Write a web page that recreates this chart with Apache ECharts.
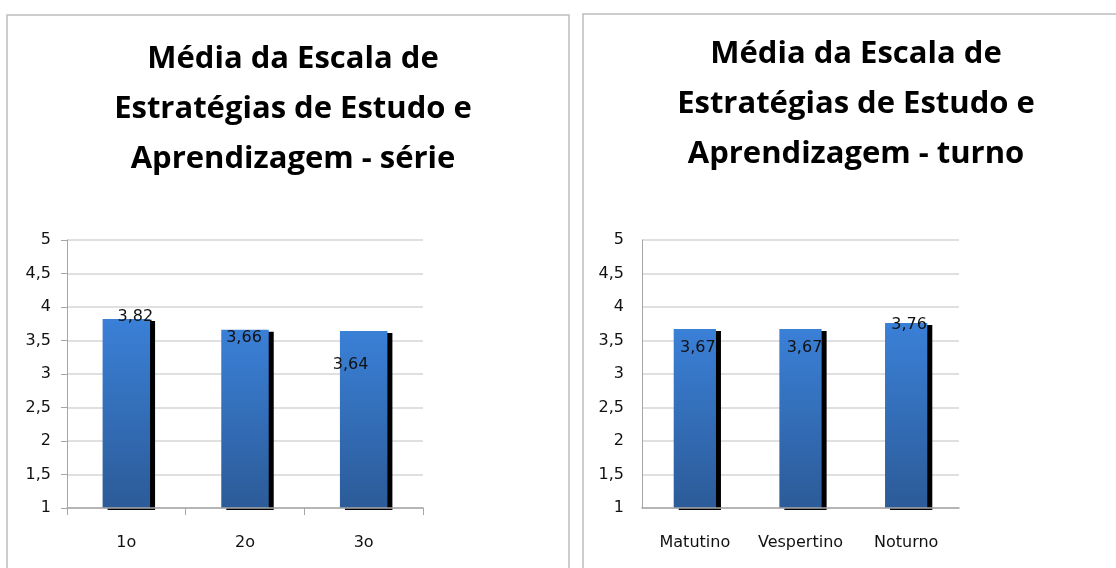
<!DOCTYPE html>
<html>
<head>
<meta charset="utf-8">
<script src="https://cdn.jsdelivr.net/npm/echarts@6/dist/echarts.min.js"></script>
<style>
  html, body { margin: 0; background: #fff; }
  #chart { width: 1116px; height: 568px; }
</style>
</head>
<body>
<div id="chart"></div>
<script>
const serieCategories = ["1o", "2o", "3o"]
const serieValues = [3.82, 3.66, 3.64]
const turnoCategories = ["Matutino", "Vespertino", "Noturno"]
const turnoValues = [3.67, 3.67, 3.76]
const yMin = 1
const yMax = 5
const yStep = 0.5

const axisFont = "'DejaVu Sans', Verdana, sans-serif"
const titleFont = "'Open Sans', 'Liberation Sans', sans-serif"
const comma = (v) => String(v).replace(".", ",")

// where Excel dropped each data label, relative to the bar top
const serieLabelOffsets = [[9, -2], [-1, 8], [-13, 34]]
const turnoLabelOffsets = [[3, 19], [4, 19], [3, 2]]

const barColor = new echarts.graphic.LinearGradient(0, 0, 0, 1, [
  { offset: 0, color: "#3a80d7" },
  { offset: 1, color: "#2c5b98" },
])

function makeYAxis(gridIndex, ticks, margin) {
  return {
    type: "value",
    gridIndex,
    min: yMin,
    max: yMax,
    interval: yStep,
    axisLine: { show: true, lineStyle: { color: "#a6a6a6", width: 1 } },
    axisTick: { show: ticks, length: 6, lineStyle: { color: "#a6a6a6" } },
    axisLabel: { color: "#111", fontSize: 16, fontFamily: axisFont, margin, formatter: comma },
    splitLine: { lineStyle: { color: "#d6d6d6", width: 1.5 } },
  }
}

function makeXAxis(gridIndex, data, ticks) {
  return {
    type: "category",
    gridIndex,
    data,
    z: 3,
    axisLine: { lineStyle: { color: "#a6a6a6", width: 1.5 } },
    axisTick: { show: ticks, length: 7, lineStyle: { color: "#a6a6a6" } },
    axisLabel: { color: "#111", fontSize: 16, fontFamily: axisFont, margin: 27, interval: 0 },
  }
}

function makeSeries(index, values, offsets) {
  return {
    type: "bar",
    xAxisIndex: index,
    yAxisIndex: index,
    barWidth: "40%",
    data: values.map((v, i) => ({
      value: v,
      label: { offset: offsets[i] },
    })),
    itemStyle: {
      color: barColor,
      shadowColor: "#000",
      shadowOffsetX: 5,
      shadowOffsetY: 2,
      shadowBlur: 0,
    },
    label: {
      show: true,
      position: ["50%", 0],
      align: "center",
      verticalAlign: "middle",
      color: "#111",
      fontSize: 16,
      fontFamily: axisFont,
      formatter: (p) => comma(p.value),
    },
  }
}

const titleText = "Média da Escala de\nEstratégias de Estudo e\nAprendizagem - "
const titleStyle = { fontSize: 31, fontWeight: "bold", color: "#000", lineHeight: 50, fontFamily: titleFont }

const chart = echarts.init(document.getElementById("chart"))
chart.setOption({
  animation: false,
  title: [
    { text: titleText + "série", left: 288, top: 29, textAlign: "center", textStyle: titleStyle },
    { text: titleText + "turno", left: 851, top: 24, textAlign: "center", textStyle: titleStyle },
  ],
  graphic: [
    { type: "rect", shape: { x: 7, y: 15, width: 562, height: 600 }, style: { fill: null, stroke: "#bdbdbd", lineWidth: 1.5 }, z: -1 },
    { type: "rect", shape: { x: 583, y: 14, width: 600, height: 600 }, style: { fill: null, stroke: "#bdbdbd", lineWidth: 1.5 }, z: -1 },
  ],
  grid: [
    { left: 67, top: 240, width: 356, height: 268 },
    { left: 642, top: 240, width: 317, height: 268 },
  ],
  xAxis: [makeXAxis(0, serieCategories, true), makeXAxis(1, turnoCategories, false)],
  yAxis: [makeYAxis(0, true, 16), makeYAxis(1, false, 18)],
  series: [
    makeSeries(0, serieValues, serieLabelOffsets),
    makeSeries(1, turnoValues, turnoLabelOffsets),
  ],
})
</script>
</body>
</html>
